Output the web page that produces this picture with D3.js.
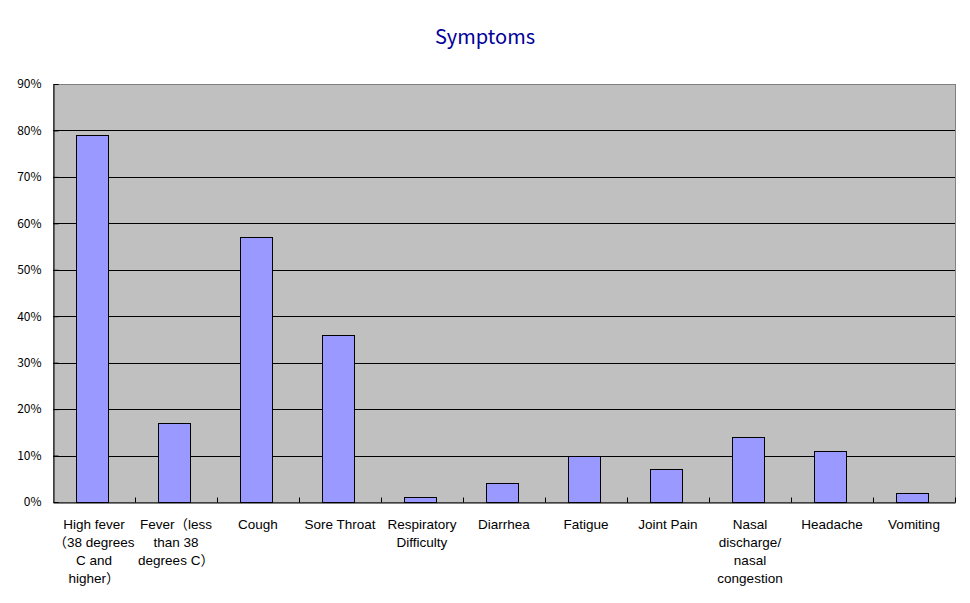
<!DOCTYPE html>
<html><head><meta charset="utf-8">
<script src="https://cdn.jsdelivr.net/npm/d3@7"></script>
<style>body{margin:0;background:#fff;} svg{display:block;}</style>
</head><body>
<svg id="c" width="970" height="603"></svg>
<script>
const categories = [
  "High fever\n（38 degrees\nC and\nhigher）",
  "Fever（less\nthan 38\ndegrees C）",
  "Cough",
  "Sore Throat",
  "Respiratory\nDifficulty",
  "Diarrhea",
  "Fatigue",
  "Joint Pain",
  "Nasal\ndischarge/\nnasal\ncongestion",
  "Headache",
  "Vomiting"
];
const values = [0.79, 0.17, 0.57, 0.36, 0.01, 0.04, 0.10, 0.07, 0.14, 0.11, 0.02];
const yTicks = [0, 0.1, 0.2, 0.3, 0.4, 0.5, 0.6, 0.7, 0.8, 0.9];
const title = "Symptoms";

const svg = d3.select("#c");
const L = 53, R = 955, T = 84, B = 502;
const font = "'Noto Sans CJK JP', 'Liberation Sans', sans-serif";
const labFont = "'Liberation Sans', 'Noto Sans CJK JP', sans-serif";

const x = d3.scaleBand().domain(categories).range([L, R]).paddingInner(0.6).paddingOuter(0.3);
const xb = d3.scaleBand().domain(categories).range([L, R]);
const y = d3.scaleLinear().domain([0, 0.9]).range([B, T]);

svg.append("rect").attr("x", L + 0.5).attr("y", T + 0.5).attr("width", R - L).attr("height", B - T)
  .attr("fill", "#C0C0C0").attr("stroke", "#808080").attr("stroke-width", 1);

// gridlines
svg.append("g").selectAll("line").data(yTicks.slice(1, -1)).join("line")
  .attr("x1", L).attr("x2", R).attr("y1", d => Math.round(y(d)) + 0.5).attr("y2", d => Math.round(y(d)) + 0.5)
  .attr("stroke", "#000").attr("stroke-width", 1);

// bars
svg.append("g").selectAll("rect").data(values).join("rect")
  .attr("x", (d, i) => Math.floor(x(categories[i])) - 0.5)
  .attr("width", Math.floor(x.bandwidth()))
  .attr("y", d => Math.round(y(d)) + 0.5)
  .attr("height", d => Math.round(B - y(d)))
  .attr("fill", "#9999FF").attr("stroke", "#000").attr("stroke-width", 1);

// y axis
const yAxis = d3.axisLeft(y).tickValues(yTicks).tickFormat(d3.format(".0%")).tickSize(-5).tickPadding(12);
const gy = svg.append("g").attr("transform", `translate(${L + 0.5},0)`).call(yAxis);
gy.select(".domain").attr("stroke", "#000");
gy.selectAll("text").attr("font-family", font).attr("font-size", 12).attr("fill", "#000");

// x axis
const gx = svg.append("g").attr("transform", `translate(0,${B + 0.5})`)
  .call(d3.axisBottom(xb).tickSize(0).tickFormat(""));
gx.select(".domain").attr("stroke", "#000");
gx.selectAll(".tick").remove();
gx.selectAll("line.bt").data(categories.slice(1).concat(["__end"])).join("line")
  .attr("class", "bt")
  .attr("x1", (d, i) => i < categories.length - 1 ? Math.round(xb(d)) + 0.5 : R + 0.5)
  .attr("x2", (d, i) => i < categories.length - 1 ? Math.round(xb(d)) + 0.5 : R + 0.5)
  .attr("y1", 0).attr("y2", -5).attr("stroke", "#000");

// x labels
const lab = svg.append("g");
categories.forEach(c => {
  const cx = xb(c) + xb.bandwidth() / 2;
  const t = lab.append("text").attr("text-anchor", "middle").attr("font-family", labFont)
    .attr("font-size", 13.5).attr("fill", "#000");
  c.split("\n").forEach((ln, j) => {
    t.append("tspan").attr("x", cx).attr("y", 529 + j * 18).text(ln);
  });
});

svg.append("text").attr("x", 485).attr("y", 44).attr("text-anchor", "middle")
  .attr("font-family", font).attr("font-size", 20).attr("fill", "#000099").text(title);
</script>
</body></html>
